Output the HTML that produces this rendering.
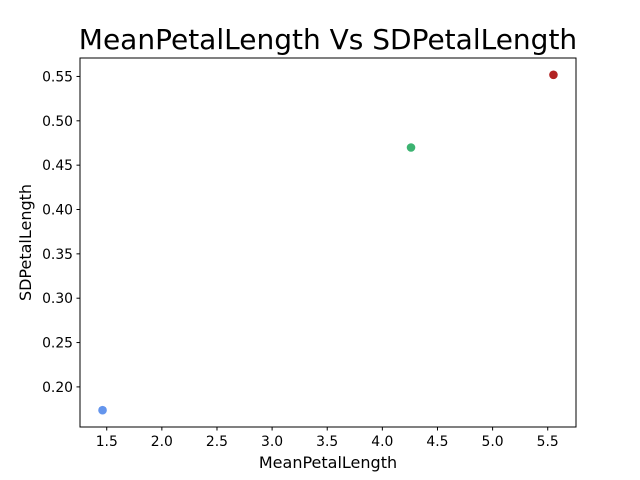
<!DOCTYPE html>
<html><head><meta charset="utf-8"><style>body{margin:0;background:#fff}svg{display:block;font-family:"DejaVu Sans","Liberation Sans",sans-serif}</style></head>
<body>
<svg id="chart" width="640" height="480">
<text x="328" y="49" font-size="28" text-anchor="middle">MeanPetalLength Vs SDPetalLength</text>
<rect x="80" y="58" width="496" height="369" fill="none" stroke="#000" stroke-width="1"/>
<g id="xt"></g><g id="yt"></g><g id="pts"></g>
<text x="328" y="468" font-size="16" text-anchor="middle">MeanPetalLength</text>
<text transform="translate(31,242.5) rotate(-90)" font-size="16" text-anchor="middle">SDPetalLength</text>
</svg>
<script>
const categories = ["setosa","versicolor","virginica"];
const meanPetal = [1.462, 4.26, 5.552];
const sdPetal = [0.1737, 0.4699, 0.5519];
const colors = ["#6495ED","#3CB371","#B22222"];
const xTicks = ["1.5","2.0","2.5","3.0","3.5","4.0","4.5","5.0","5.5"];
const yTicks = ["0.20","0.25","0.30","0.35","0.40","0.45","0.50","0.55"];
const NS="http://www.w3.org/2000/svg";
const xmn=Math.min(...meanPetal),xmx=Math.max(...meanPetal),xm=(xmx-xmn)*0.05;
const ymn=Math.min(...sdPetal),ymx=Math.max(...sdPetal),ym=(ymx-ymn)*0.05;
const X=v=>80+(v-(xmn-xm))/((xmx-xmn)+2*xm)*496;
const Y=v=>427-(v-(ymn-ym))/((ymx-ymn)+2*ym)*369;
function mk(t,a,p){const e=document.createElementNS(NS,t);for(const k in a)e.setAttribute(k,a[k]);p.appendChild(e);return e;}
const xt=document.getElementById('xt'),yt=document.getElementById('yt'),pts=document.getElementById('pts');
xTicks.forEach(t=>{const x=X(+t);
 const l=mk('line',{x1:x,x2:x,y1:427,y2:430.5,stroke:'#000'},xt);
 
 
 const s=mk('text',{x:x,y:446,'font-size':13.9,'text-anchor':'middle'},xt);s.textContent=t;
 
 });
yTicks.forEach(t=>{const y=Y(+t);
 const l=mk('line',{x1:76.5,x2:80,y1:y,y2:y,stroke:'#000'},yt);
 
 
 const s=mk('text',{x:73,y:y+5,'font-size':13.9,'text-anchor':'end'},yt);s.textContent=t;
 
 });
categories.forEach((c,i)=>{const p=mk('circle',{cx:X(meanPetal[i]),cy:Y(sdPetal[i]),r:4.3,fill:colors[i]},pts);
 
 });
</script>
</body></html>
